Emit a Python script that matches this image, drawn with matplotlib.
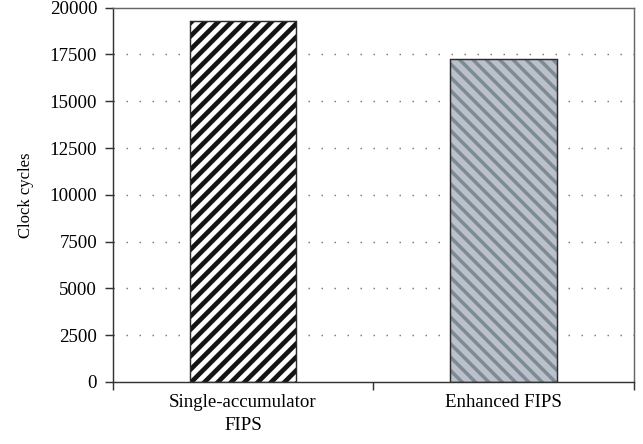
import numpy as np
import matplotlib.pyplot as plt

# data
categories = ["Single-accumulator\nFIPS", "Enhanced FIPS"]
cycles = [19300, 17280]
yticks = [0, 2500, 5000, 7500, 10000, 12500, 15000, 17500, 20000]

plt.rcParams['font.family'] = 'serif'
plt.rcParams['font.serif'] = ['Liberation Serif']
plt.rcParams['hatch.linewidth'] = 4.2

DPI = 80
fig = plt.figure(figsize=(643 / DPI, 444 / DPI), dpi=DPI)
ax = fig.add_axes([112.7 / 643, 62 / 444, 521 / 643, 374.3 / 444])

pos = np.arange(len(categories)) + 0.5

# dotted grid behind the bars
for v in yticks[1:-1]:
    ax.axhline(v, color='#777777', lw=1.3, ls=(0, (1, 8)), zorder=0)

b1 = ax.bar(pos[0], cycles[0], width=0.41, color='white', edgecolor='#2a2a2a',
            hatch='//', lw=1.3, zorder=2)
for p in b1:
    p._hatch_color = (0.08, 0.08, 0.08, 1)
    if hasattr(p, 'set_hatch_linewidth'):
        p.set_hatch_linewidth(4.2)

plt.rcParams['hatch.linewidth'] = 3.2
b2 = ax.bar(pos[1], cycles[1], width=0.41, color='#bcc0cb', edgecolor='#2a2a2a',
            hatch='\\\\', lw=1.3, zorder=2)
for p in b2:
    p._hatch_color = (0.49, 0.55, 0.58, 1)
    if hasattr(p, 'set_hatch_linewidth'):
        p.set_hatch_linewidth(3.2)

ax.set_xlim(0, 2)
ax.set_ylim(0, 20000)
ax.set_yticks(yticks)
ax.set_yticklabels([str(v) for v in yticks], fontfamily='Liberation Serif', fontsize=17)
ax.set_xticks([0, 1, 2])
ax.set_xticklabels([])
ax.set_xticks(pos, minor=True)
ax.set_xticklabels(categories, minor=True, fontsize=17, linespacing=1.45,
                   fontfamily='Liberation Serif')
ax.tick_params(axis='x', which='minor', length=0, pad=11)
ax.tick_params(axis='x', which='major', direction='out', length=7, width=1.3, color='#333333')
ax.tick_params(axis='y', direction='out', length=7, width=1.3, color='#333333', pad=7)

for s in ['left', 'bottom']:
    ax.spines[s].set_color('#333333')
    ax.spines[s].set_linewidth(1.3)
for s in ['top', 'right']:
    ax.spines[s].set_color('#666666')
    ax.spines[s].set_linewidth(1.3)

ax.set_ylabel("Clock cycles", fontsize=15, labelpad=14, fontfamily='Liberation Serif')

fig.savefig("out.png", dpi=DPI)
